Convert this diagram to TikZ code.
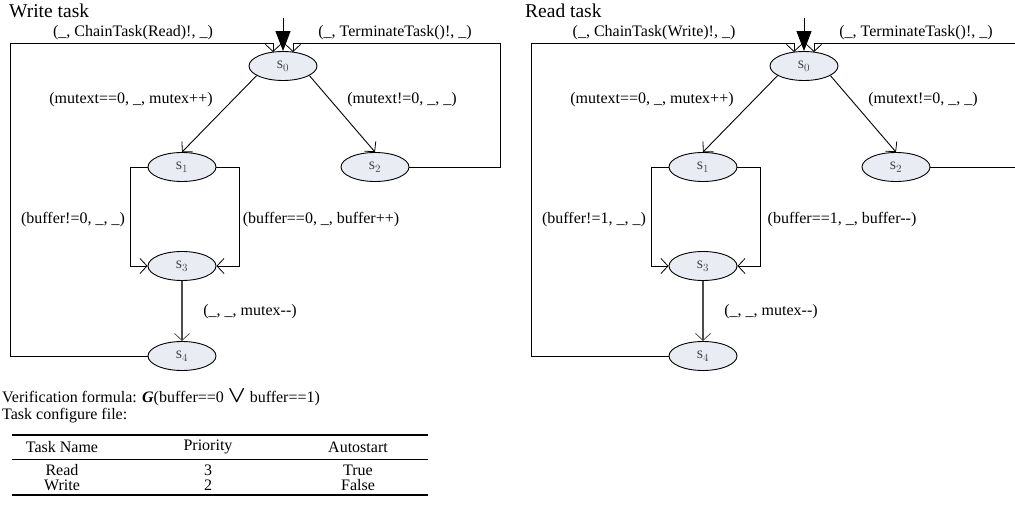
\documentclass[tikz,border=0pt]{standalone}
\usepackage{amsmath}
\usepackage{fontspec}
\setmainfont{Liberation Serif}
\usetikzlibrary{arrows.meta,shapes.geometric}
\definecolor{stfill}{RGB}{233,237,243}
\definecolor{sttext}{RGB}{70,70,70}
\tikzset{
  st/.style={ellipse,draw,line width=0.9pt,fill=stfill,minimum width=68pt,minimum height=29pt,inner sep=0pt,
     font=\fontsize{16}{18}\selectfont,text=sttext},
  arr/.style={line width=0.9pt,-{Straight Barb[length=7pt,width=15pt,line width=0.8pt]}},
  initarr/.style={line width=0.9pt,-{Triangle[length=20pt,width=15pt]}},
  lab/.style={font=\fontsize{16}{18}\selectfont,inner sep=0pt},
  ttl/.style={font=\fontsize{19.5}{22}\selectfont,inner sep=0pt,anchor=west},
  tab/.style={font=\fontsize{16}{18}\selectfont,inner sep=0pt},
}
\newcommand\taskfsm[6]{%
\begin{scope}[xshift=#2]
  \node[st] (#1s0) at (283,66) {s$_0$};
  \node[st] (#1s1) at (182,167) {s$_1$};
  \node[st] (#1s2) at (375,167) {s$_2$};
  \node[st] (#1s3) at (182,266) {s$_3$};
  \node[st] (#1s4) at (182,356) {s$_4$};
  \coordinate (#1in) at (283,18);
  \coordinate (#1lt) at (10,43);
  \coordinate (#1rt) at (#6,43);
  \coordinate (#1lo) at (130,0);
  \coordinate (#1ro) at (239,0);
  \draw[initarr] (#1in) -- (#1s0.north);
  \draw[arr] (#1s4.west) -| (#1lt) -- (273,43) -- (273,52);
  \draw[arr] (#1s2.east) -| (#1rt) -- (293,43) -- (293,52);
  \draw[arr] (#1s0.200) -- (#1s1.north);
  \draw[arr] (#1s0.-20) -- (#1s2.north);
  \draw[arr] (#1s1.west) -| (#1lo |- #1s3.west) -- (#1s3.west);
  \draw[arr] (#1s1.east) -| (#1ro |- #1s3.east) -- (#1s3.east);
  \draw[arr,draw=black!70,line width=1.1pt] (#1s3.south) -- (#1s4.north);
  \node[lab] at (133,33) {(\_, ChainTask(#3)!, \_)};
  \node[lab] at (395,33) {(\_, TerminateTask()!, \_)};
  \node[lab] at (131,100) {(mutext==0, \_, mutex++)};
  \node[lab] at (402,100) {(mutext!=0, \_, \_)};
  \node[lab] at (73,220) {#4};
  \node[lab] at (321,220) {#5};
  \node[lab] at (250,312) {(\_, \_, mutex-{}-)};
\end{scope}}
\begin{document}
\begin{tikzpicture}[x=1pt,y=-1pt]
\useasboundingbox (0,0) rectangle (1015,508);
\node[ttl] (wt) at (9,11) {Write task};
\node[ttl] (rt) at (525,11) {Read task};
\taskfsm{w}{0}{Read}{(buffer!=0, \_, \_)}{(buffer==0, \_, buffer++)}{500}
\taskfsm{r}{521}{Write}{(buffer!=1, \_, \_)}{(buffer==1, \_, buffer-{}-)}{502}
% verification and table
\node[tab,anchor=west] (vf) at (2,398) {Verification formula: \textbf{\textit{G}}(buffer==0 \scalebox{1.35}{$\boldsymbol{\vee}$} buffer==1)};
\node[tab,anchor=west] (tc) at (2,416) {Task configure file:};
\draw[line width=1.6pt] (12,435) -- (428,435);
\draw[line width=0.8pt] (12,459) -- (428,459);
\draw[line width=1.6pt] (12,495) -- (428,495);
\node[tab] (h1) at (62,447) {Task Name};
\node[tab] (h2) at (208,447) {Priority};
\node[tab] (h3) at (358,447) {Autostart};
\node[tab] (a1) at (62,470) {Read};
\node[tab] (a2) at (208,470) {3};
\node[tab] (a3) at (358,470) {True};
\node[tab] (b1) at (62,485) {Write};
\node[tab] (b2) at (208,485) {2};
\node[tab] (b3) at (358,485) {False};
\end{tikzpicture}
\end{document}
